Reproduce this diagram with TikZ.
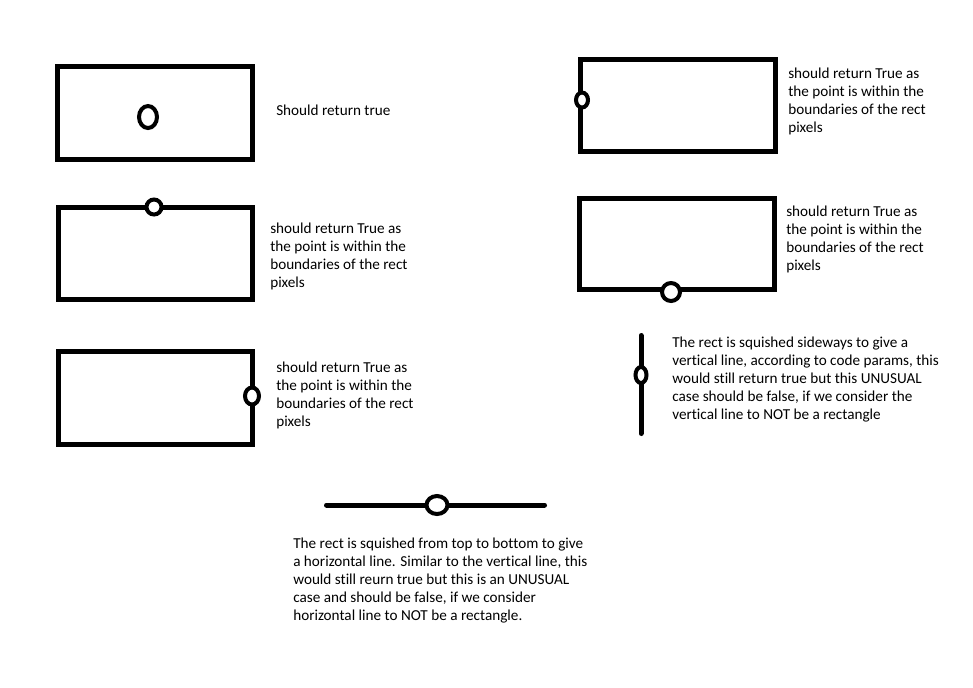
\documentclass[tikz,border=0pt]{standalone}
\usepackage{fontspec}
\setmainfont[Ligatures=NoCommon]{Carlito}
\usetikzlibrary{positioning}

\tikzset{edge/.style={line width=3.75pt},
  dot/.style={line width=3pt,fill=white},
  note/.style={anchor=base west,align=left,inner sep=0pt,font=\fontsize{11.4}{13.5}\selectfont}}

\begin{document}
\begin{tikzpicture}[x=0.75pt,y=-0.75pt]
\useasboundingbox[fill=white] (0,0) rectangle (973,687);
% left column
\draw[edge] (57.5,66.5) rectangle (252.5,159.5);
\draw[dot] (148,117) ellipse [x radius=9, y radius=11];
\node[note] (inside) at (276,115) {Should return true};
\draw[edge] (58.5,207.5) rectangle (252.5,299.5);
\draw[dot] (154,207) ellipse [x radius=7.5, y radius=7.5];
\node[note] (top) at (270,287) {should return True as\\the point is within the\\boundaries of the rect\\pixels};
\draw[edge] (58.5,351.5) rectangle (252.5,444.5);
\draw[dot] (252,396) ellipse [x radius=7, y radius=8.5];
\node[note] (right) at (276,426) {should return True as\\the point is within the\\boundaries of the rect\\pixels};
% right column
\draw[edge] (580.5,59.5) rectangle (775.5,151.5);
\draw[dot] (582,100) ellipse [x radius=6, y radius=7.5];
\node[note] (left) at (788,132) {should return True as\\the point is within the\\boundaries of the rect\\pixels};
\draw[edge] (579.5,198.5) rectangle (774.5,289.5);
\draw[dot] (671,292) ellipse [x radius=9, y radius=9];
\node[note] (bottom) at (786,270) {should return True as\\the point is within the\\boundaries of the rect\\pixels};
% squished cases
\draw[edge,line cap=round] (641,335.5) -- (641,433.5);
\draw[dot] (641,375) ellipse [x radius=5.5, y radius=8];
\node[note] (vert) at (672,419) {The rect is squished sideways to give a\\vertical line, according to code params, this\\would still return true but this UNUSUAL\\case should be false, if we consider the\\vertical line to NOT be a rectangle};
\draw[edge,line cap=round] (326.5,505) -- (544.5,505);
\draw[dot] (437,505) ellipse [x radius=10.5, y radius=9];
\node[note] (horiz) at (293,620) {The rect is squished from top to bottom to give\\a horizontal line. Similar to the vertical line, this\\would still reurn true but this is an UNUSUAL\\case and should be false, if we consider\\horizontal line to NOT be a rectangle.};
\end{tikzpicture}
\end{document}
